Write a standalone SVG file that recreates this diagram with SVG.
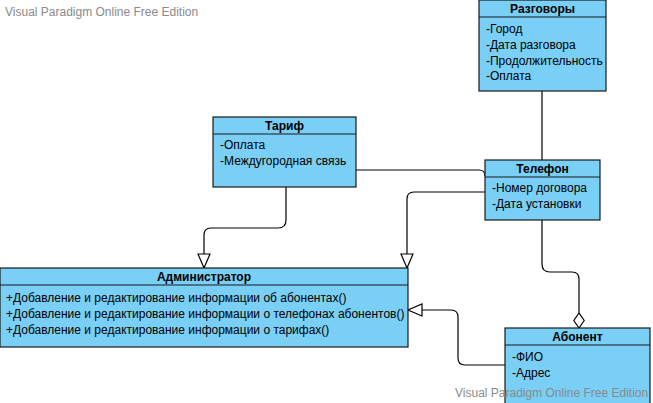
<svg xmlns="http://www.w3.org/2000/svg" width="653" height="403" viewBox="0 0 653 403">
<defs>
<style>
.box{fill:#79CFF5;stroke:#1a1a1a;stroke-width:1.2}
.sep{stroke:#1a1a1a;stroke-width:1.2}
.t{font-family:"Liberation Sans",Arial,sans-serif;font-size:12px;fill:#000}
.tb{font-family:"Liberation Sans",Arial,sans-serif;font-size:12px;font-weight:bold;fill:#000;text-anchor:middle}
.wm{font-family:"Liberation Sans",Arial,sans-serif;font-size:12px;fill:#8a8a8a}
.c{fill:none;stroke:#000;stroke-width:1.2}
</style>
<marker id="tri" viewBox="0 0 16 14" refX="15" refY="7" markerWidth="16" markerHeight="14" markerUnits="userSpaceOnUse" orient="auto">
<path d="M1 1 L15 7 L1 13 Z" fill="#fff" stroke="#000" stroke-width="1.2"/>
</marker>
<marker id="dia" viewBox="0 0 16 12" refX="15.5" refY="6" markerWidth="16" markerHeight="12" markerUnits="userSpaceOnUse" orient="auto">
<path d="M0.5 6 L8 0.8 L15.5 6 L8 11.2 Z" fill="#fff" stroke="#000" stroke-width="1.2"/>
</marker>
</defs>
<rect width="653" height="403" fill="#fff"/>
<text class="wm" x="5" y="16">Visual Paradigm Online Free Edition</text>
<g id="connectors">
<path class="c" d="M542 91 V160"/>
<path class="c" d="M356 170 H479 Q485 170 485 176"/>
<path class="c" d="M485 192 H414 Q407 192 407 199 V268" marker-end="url(#tri)"/>
<path class="c" d="M286 187 V220 Q286 228 278 228 H211 Q204 228 204 235 V268" marker-end="url(#tri)"/>
<path class="c" d="M542 220 V264 Q542 272 550 272 H572 Q579 272 579 279 V328" marker-end="url(#dia)"/>
<path class="c" d="M505 365 H465 Q458 365 458 358 V317 Q458 310 451 310 H408" marker-end="url(#tri)"/>
</g>
<g id="razgovory">
<rect class="box" x="479" y="0" width="127" height="91"/>
<line class="sep" x1="479" y1="17" x2="606" y2="17"/>
<text class="tb" x="542.5" y="12.5">Разговоры</text>
<text class="t" x="486" y="33">-Город</text>
<text class="t" x="486" y="49">-Дата разговора</text>
<text class="t" x="486" y="65">-Продолжительность</text>
<text class="t" x="486" y="80">-Оплата</text>
</g>
<g id="tarif">
<rect class="box" x="213" y="117" width="143" height="70"/>
<line class="sep" x1="213" y1="134" x2="356" y2="134"/>
<text class="tb" x="284.5" y="129.5">Тариф</text>
<text class="t" x="220" y="149">-Оплата</text>
<text class="t" x="220" y="165">-Междугородная связь</text>
</g>
<g id="telefon">
<rect class="box" x="485" y="160" width="115" height="60"/>
<line class="sep" x1="485" y1="177" x2="600" y2="177"/>
<text class="tb" x="542.5" y="172.5">Телефон</text>
<text class="t" x="492" y="192">-Номер договора</text>
<text class="t" x="492" y="208">-Дата установки</text>
</g>
<g id="administrator">
<rect class="box" x="0" y="268" width="408" height="79"/>
<line class="sep" x1="0" y1="285" x2="408" y2="285"/>
<text class="tb" x="204" y="280.5">Администратор</text>
<text class="t" x="6" y="302">+Добавление и редактирование информации об абонентах()</text>
<text class="t" x="6" y="318">+Добавление и редактирование информации о телефонах абонентов()</text>
<text class="t" x="6" y="334">+Добавление и редактирование информации о тарифах()</text>
</g>
<g id="abonent">
<rect class="box" x="505" y="328" width="145" height="80"/>
<line class="sep" x1="505" y1="345" x2="650" y2="345"/>
<text class="tb" x="577.5" y="340.5">Абонент</text>
<text class="t" x="512" y="361">-ФИО</text>
<text class="t" x="512" y="377">-Адрес</text>
</g>
<text class="wm" x="455" y="397">Visual Paradigm Online Free Edition</text>
</svg>
